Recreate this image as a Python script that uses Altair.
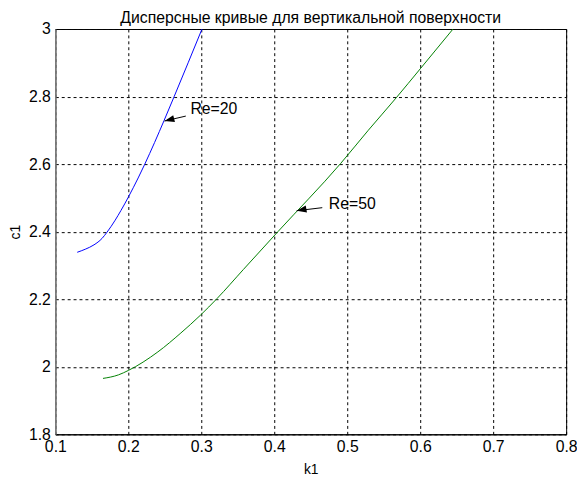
import altair as alt
import pandas as pd

FONT = "Liberation Sans"

title_text = "Дисперсные кривые для вертикальной поверхности"
x_label = "k1"
y_label = "c1"

x_ticks = [0.1, 0.2, 0.3, 0.4, 0.5, 0.6, 0.7, 0.8]
y_ticks = [1.8, 2.0, 2.2, 2.4, 2.6, 2.8, 3.0]

series_names = ["Re=20", "Re=50"]
series_colors = ["#0000ff", "#008000"]

blue_k = [0.130, 0.141, 0.153, 0.164, 0.171, 0.182, 0.190, 0.200, 0.2135,
          0.2225, 0.236, 0.249, 0.263, 0.282, 0.301]
blue_c = [2.339, 2.348, 2.361, 2.380, 2.399, 2.434, 2.463, 2.502, 2.559,
          2.5995, 2.664, 2.729, 2.801, 2.900, 3.000]

green_k = [0.1653, 0.1865, 0.200, 0.2405, 0.272, 0.299, 0.3216, 0.3577, 0.405,
           0.491, 0.5288, 0.567, 0.600, 0.645]
green_c = [1.9655, 1.976, 1.989, 2.044, 2.100, 2.153, 2.202, 2.288, 2.400,
           2.602, 2.700, 2.796, 2.882, 3.000]

ann_text = ["Re=20", "Re=50"]
ann_text_k = [0.2851, 0.4747]
ann_text_c = [2.7635, 2.482]
arrow_tail_k = [0.2788, 0.4658]
arrow_tail_c = [2.7422, 2.471]
arrow_head_k = [0.2496, 0.4307]
arrow_head_c = [2.7276, 2.462]
arrow_angle = [346, 350]

curves = pd.concat([
    pd.DataFrame({"k": blue_k, "c": blue_c, "s": series_names[0]}),
    pd.DataFrame({"k": green_k, "c": green_c, "s": series_names[1]}),
])
ann = pd.DataFrame({
    "text": ann_text, "tk": ann_text_k, "tc": ann_text_c,
    "ak": arrow_tail_k, "ac": arrow_tail_c,
    "hk": arrow_head_k, "hc": arrow_head_c, "ang": arrow_angle,
})
title_df = pd.DataFrame({"t": [title_text]})

xs = alt.Scale(domain=[0.1, 0.8], nice=False, zero=False)
ys = alt.Scale(domain=[1.8, 3.0], nice=False, zero=False)

common_axis = dict(
    grid=True, gridColor="black", gridDash=[3, 3], gridOpacity=1, gridWidth=1,
    ticks=False, tickSize=0, labelFontSize=16, labelFont=FONT, labelColor="black",
    titleFontSize=14, titleFont=FONT, titleFontWeight="normal", titleColor="black",
    labelFlush=False, labelOverlap=False, format="~g",
)

x_axis = alt.Axis(values=x_ticks, title=x_label, labelPadding=4,
                  domainColor="black", domainWidth=1,
                  titleY=40, titleBaseline="alphabetic", **common_axis)
y_axis = alt.Axis(values=y_ticks, title=y_label, labelPadding=5,
                  domainColor="#808080", domainWidth=1.5,
                  titleX=-36, titleY=205.5, titleAngle=270,
                  titleBaseline="alphabetic", **common_axis)

lines = alt.Chart(curves).mark_line(strokeWidth=1, clip=True, interpolate="monotone").encode(
    x=alt.X("k:Q", scale=xs, axis=x_axis),
    y=alt.Y("c:Q", scale=ys, axis=y_axis),
    color=alt.Color("s:N", scale=alt.Scale(domain=series_names, range=series_colors), legend=None),
)

rules = alt.Chart(ann).mark_rule(color="black", strokeWidth=1).encode(
    x=alt.X("ak:Q", scale=xs, axis=x_axis),
    y=alt.Y("ac:Q", scale=ys, axis=y_axis),
    x2="hk:Q",
    y2="hc:Q",
)

heads = alt.Chart(ann).mark_point(
    shape="M0,0L1,-0.36L1,0.36Z", filled=True, color="black", opacity=1,
    size=400, strokeWidth=0,
).encode(
    x=alt.X("hk:Q", scale=xs, axis=x_axis),
    y=alt.Y("hc:Q", scale=ys, axis=y_axis),
    angle=alt.Angle("ang:Q", scale=None),
)

texts = alt.Chart(ann).mark_text(
    align="left", baseline="middle", fontSize=16, font=FONT, color="black",
).encode(
    x=alt.X("tk:Q", scale=xs, axis=x_axis),
    y=alt.Y("tc:Q", scale=ys, axis=y_axis),
    text="text:N",
)

title_mark = alt.Chart(title_df).mark_text(
    align="center", baseline="alphabetic", fontSize=16, font=FONT, color="black",
).encode(
    x=alt.value(259),
    y=alt.value(-6.5),
    text="t:N",
)

chart = alt.layer(lines, rules, heads, texts, title_mark).properties(
    width=518,
    height=411,
    autosize=alt.AutoSizeParams(type="none"),
    padding={"left": 48, "top": 18, "right": 11, "bottom": 42},
).configure_view(stroke="black", strokeWidth=1)

chart.save("out.html", embed_options={"renderer": "svg", "actions": False})
